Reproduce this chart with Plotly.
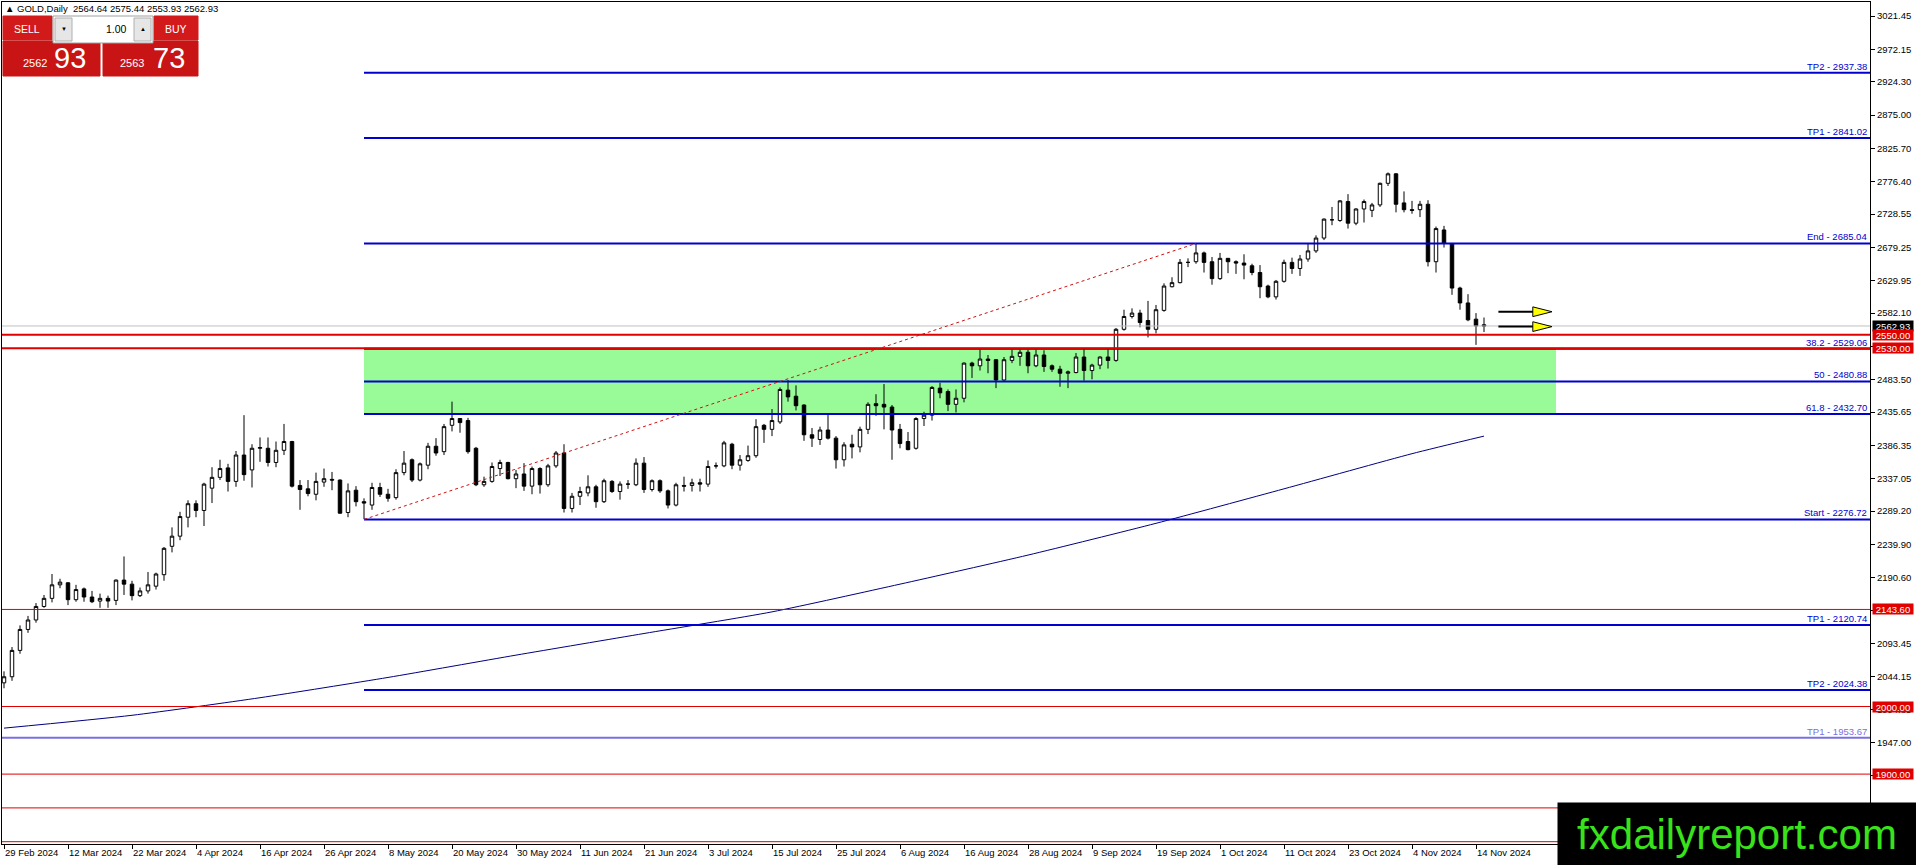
import pandas as pd
import plotly.graph_objects as go

# ---- GOLD daily bars, 29 Feb 2024 - 15 Nov 2024 ----
opens = [
    2035, 2044, 2083, 2114, 2128, 2148, 2160, 2180, 2183, 2158,
    2174, 2162, 2156, 2160, 2157, 2187, 2181, 2164, 2171, 2178,
    2195, 2237, 2252, 2280, 2300, 2290, 2323, 2339, 2353, 2333,
    2372, 2350, 2382, 2382, 2361, 2379, 2392, 2327, 2322, 2314,
    2332, 2336, 2335, 2287, 2320, 2303, 2298, 2324, 2314, 2309,
    2346, 2365, 2335, 2357, 2385, 2377, 2416, 2426, 2423, 2382,
    2328, 2333, 2352, 2361, 2337, 2344, 2326, 2352, 2328, 2356,
    2375, 2293, 2311, 2316, 2325, 2303, 2333, 2318, 2329, 2328,
    2360, 2321, 2334, 2319, 2298, 2327, 2327, 2331, 2329, 2356,
    2356, 2388, 2357, 2364, 2371, 2416, 2410, 2421, 2468, 2459,
    2446, 2402, 2395, 2409, 2397, 2365, 2388, 2384, 2410, 2448,
    2447, 2443, 2410, 2392, 2382, 2426, 2431, 2471, 2466, 2447,
    2456, 2508, 2504, 2514, 2513, 2483, 2512, 2518, 2524, 2504,
    2520, 2504, 2499, 2493, 2494, 2517, 2497, 2505, 2517, 2512,
    2558, 2577, 2582, 2571, 2558, 2586, 2621, 2627, 2657, 2658,
    2671, 2658, 2633, 2663, 2658, 2656, 2652, 2642, 2622, 2606,
    2629, 2657, 2648, 2662, 2674, 2693, 2720, 2719, 2747, 2715,
    2736, 2734, 2742, 2774, 2788, 2745, 2735, 2735, 2743, 2658,
    2705, 2685, 2619, 2597, 2573, 2564.64,
]
highs = [
    2052, 2088, 2120, 2134, 2153, 2165, 2196, 2189, 2184, 2180,
    2176, 2171, 2167, 2164, 2188, 2222, 2186, 2176, 2199, 2198,
    2236, 2265, 2288, 2305, 2305, 2331, 2354, 2365, 2359, 2378,
    2431, 2388, 2398, 2398, 2392, 2418, 2393, 2335, 2335, 2346,
    2352, 2347, 2336, 2330, 2326, 2308, 2331, 2331, 2322, 2351,
    2378, 2367, 2361, 2390, 2397, 2418, 2451, 2426, 2427, 2384,
    2340, 2361, 2365, 2362, 2350, 2360, 2355, 2354, 2359, 2378,
    2388, 2316, 2325, 2342, 2328, 2337, 2335, 2333, 2335, 2367,
    2369, 2336, 2336, 2321, 2331, 2340, 2337, 2337, 2364, 2361,
    2393, 2390, 2372, 2386, 2425, 2418, 2440, 2472, 2483, 2475,
    2447, 2412, 2414, 2433, 2400, 2391, 2402, 2414, 2450, 2462,
    2477, 2446, 2418, 2406, 2428, 2436, 2474, 2479, 2469, 2469,
    2509, 2510, 2528, 2520, 2514, 2517, 2528, 2528, 2528, 2528,
    2527, 2506, 2504, 2497, 2523, 2530, 2507, 2518, 2529, 2560,
    2587, 2589, 2587, 2600, 2594, 2626, 2635, 2662, 2663, 2685.04,
    2673, 2665, 2671, 2663, 2660, 2669, 2655, 2653, 2624, 2631,
    2661, 2664, 2668, 2685, 2697, 2722, 2739, 2749, 2758, 2737,
    2750, 2745, 2775, 2790, 2789, 2762, 2748, 2748, 2749, 2710,
    2711, 2685, 2621, 2610, 2582, 2575.44,
]
lows = [
    2027, 2038, 2078, 2109, 2124, 2146, 2154, 2175, 2150, 2155,
    2155, 2153, 2146, 2146, 2150, 2165, 2157, 2162, 2167, 2173,
    2186, 2228, 2246, 2265, 2280, 2267, 2301, 2335, 2318, 2325,
    2334, 2324, 2362, 2355, 2354, 2372, 2324, 2291, 2311, 2305,
    2325, 2320, 2285, 2280, 2296, 2277, 2291, 2310, 2303, 2306,
    2342, 2332, 2333, 2351, 2371, 2372, 2407, 2405, 2374, 2326,
    2325, 2331, 2341, 2336, 2323, 2319, 2314, 2315, 2325, 2353,
    2287, 2287, 2298, 2311, 2294, 2301, 2316, 2306, 2322, 2326,
    2316, 2318, 2316, 2293, 2296, 2318, 2318, 2318, 2325, 2352,
    2354, 2351, 2349, 2362, 2368, 2390, 2400, 2418, 2451, 2438,
    2393, 2384, 2387, 2395, 2352, 2355, 2367, 2376, 2403, 2430,
    2410, 2365, 2382, 2379, 2380, 2415, 2423, 2456, 2437, 2435,
    2450, 2486, 2497, 2493, 2471, 2482, 2508, 2504, 2493, 2502,
    2495, 2495, 2473, 2471, 2493, 2482, 2484, 2499, 2500, 2510,
    2556, 2574, 2561, 2546, 2552, 2584, 2620, 2626, 2650, 2655,
    2642, 2624, 2631, 2641, 2640, 2632, 2638, 2604, 2604, 2602,
    2627, 2640, 2637, 2658, 2671, 2690, 2712, 2717, 2707, 2712,
    2716, 2724, 2739, 2770, 2731, 2731, 2729, 2724, 2651, 2642,
    2679, 2609, 2587, 2570, 2535, 2553.93,
]
closes = [
    2044, 2083, 2114, 2128, 2148, 2160, 2180, 2184, 2158, 2173,
    2162, 2155, 2160, 2156, 2187, 2181, 2164, 2171, 2180, 2196,
    2234, 2252, 2281, 2300, 2290, 2329, 2339, 2352, 2333, 2372,
    2343, 2382, 2383, 2361, 2379, 2392, 2326, 2321, 2315, 2333,
    2337, 2335, 2286, 2319, 2303, 2301, 2324, 2314, 2308, 2346,
    2360, 2335, 2359, 2385, 2375, 2414, 2426, 2420, 2377, 2328,
    2333, 2355, 2361, 2337, 2344, 2326, 2352, 2328, 2356, 2375,
    2293, 2311, 2318, 2325, 2303, 2334, 2318, 2329, 2329, 2360,
    2321, 2334, 2319, 2298, 2328, 2326, 2331, 2329, 2355, 2356,
    2390, 2357, 2365, 2371, 2414, 2410, 2423, 2469, 2458, 2445,
    2402, 2397, 2409, 2397, 2365, 2387, 2384, 2410, 2447, 2445,
    2443, 2409, 2389, 2380, 2426, 2431, 2472, 2464, 2447, 2456,
    2508, 2504, 2514, 2512, 2483, 2513, 2518, 2524, 2504, 2520,
    2503, 2499, 2493, 2495, 2517, 2497, 2505, 2517, 2512, 2558,
    2577, 2582, 2568, 2558, 2587, 2622, 2627, 2657, 2657, 2671,
    2657, 2633, 2663, 2658, 2656, 2653, 2642, 2621, 2606, 2629,
    2657, 2648, 2662, 2674, 2693, 2721, 2720, 2748, 2715, 2736,
    2747, 2742, 2774, 2788, 2743, 2735, 2734, 2743, 2658, 2707,
    2685, 2619, 2597, 2572, 2563, 2562.93,
]

# trading days shown on the chart (no bar on Good Friday)
dates = pd.bdate_range("2024-02-29", "2024-11-15")
dates = dates[dates != pd.Timestamp("2024-03-29")]
bars = list(range(len(dates)))
tick_bars = bars[::8]
tick_text = [f"{d.day} {d:%b %Y}" for d in dates[::8]]

# moving average, read at a few bars
ma_bars = [0, 16, 32, 48, 64, 80, 96, 112, 128, 144, 160, 176, 185]
ma_values = [1968, 1987, 2013, 2043, 2076, 2108, 2140, 2181, 2224, 2271, 2322, 2374, 2400]

# price axis labels (the two lowest sit under the watermark and are left out)
ytick_vals = [3021.45, 2972.15, 2924.30, 2875.00, 2825.70, 2776.40, 2728.55, 2679.25,
              2629.95, 2582.10, 2532.80, 2483.50, 2435.65, 2386.35, 2337.05, 2289.20,
              2239.90, 2190.60, 2141.30, 2093.45, 2044.15, 1994.85, 1947.00, 1897.70]

# fibo / projection levels (drawn from the swing low bar to the right edge)
fib_start_bar, fib_start = 45, 2276.72
fib_end_bar, fib_end = 149, 2685.04
level_names = ["TP2", "TP1", "End", "38.2", "50", "61.8", "Start", "TP1", "TP2"]
level_prices = [2937.38, 2841.02, 2685.04, 2529.06, 2480.88, 2432.70, 2276.72, 2120.74, 2024.38]
old_tp_name, old_tp_price = "TP1", 1953.67
zone_low, zone_high, zone_end_bar = 2432.70, 2529.06, 194

# horizontal support / resistance lines
red_levels = [2550.00, 2530.00, 2143.60, 2000.00, 1900.00, 1850.00, 1800.00]
red_labelled = [2550.00, 2530.00, 2143.60, 2000.00, 1900.00]
bid = 2562.93
bar_info = "2564.64 2575.44 2553.93 2562.93"
arrow_levels = [2584, 2562]

# ---- layout geometry (pixels) ----
W, H = 1916, 865
ML, MR, MT, MB = 2, 46, 2, 21
X_RANGE = [-0.25, 233.25]
Y_RANGE = [1796.6, 3042.2]
BLUE = "#0000D0"
RED = "#E00000"


def px(x):
    return (x - ML) / (W - ML - MR)


def py(y):
    return (H - MB - y) / (H - MT - MB)


fig = go.Figure()

fig.add_trace(go.Scatter(x=ma_bars, y=ma_values, mode="lines",
                         line=dict(color="#000080", width=1, shape="spline", smoothing=0.6),
                         hoverinfo="skip"))

fig.add_trace(go.Candlestick(
    x=bars, open=opens, high=highs, low=lows, close=closes,
    increasing=dict(fillcolor="white", line=dict(color="black", width=1)),
    decreasing=dict(fillcolor="black", line=dict(color="black", width=1)),
    whiskerwidth=0,
))

shapes = []
# green retracement zone (behind the bars)
shapes.append(dict(type="rect", xref="x", yref="y", x0=fib_start_bar, x1=zone_end_bar,
                   y0=zone_low, y1=zone_high, fillcolor="#98FB98", line_width=0, layer="below"))
# bid line
shapes.append(dict(type="line", xref="paper", yref="y", x0=0, x1=1, y0=bid, y1=bid,
                   line=dict(color="#C0C0C0", width=1), layer="above"))
# levels
for p in level_prices:
    shapes.append(dict(type="line", xref="x", yref="y", x0=fib_start_bar, x1=X_RANGE[1],
                       y0=p, y1=p, line=dict(color=BLUE, width=2), layer="above"))
shapes.append(dict(type="line", xref="paper", yref="y", x0=0, x1=1, y0=old_tp_price,
                   y1=old_tp_price, line=dict(color="#7A70E0", width=2), layer="above"))
for i, p in enumerate(red_levels):
    shapes.append(dict(type="line", xref="paper", yref="y", x0=0, x1=1, y0=p, y1=p,
                       line=dict(color=RED, width=2 if i < 2 else 1), layer="above"))
# fibo base line
shapes.append(dict(type="line", xref="x", yref="y", x0=fib_start_bar, y0=fib_start,
                   x1=fib_end_bar, y1=fib_end, line=dict(color="#D01010", width=1, dash="dot"),
                   layer="above"))
# yellow arrows
for p in arrow_levels:
    shapes.append(dict(type="line", xref="x", yref="y", x0=186.8, x1=191.2, y0=p, y1=p,
                       line=dict(color="black", width=2), layer="above"))
    shapes.append(dict(type="path", xref="x", yref="y", layer="above",
                       path=f"M 191.1 {p + 7.2} L 193.5 {p} L 191.1 {p - 7.2} Z",
                       fillcolor="#FFFF00", line=dict(color="black", width=1)))

# one-click trading panel
panel = [
    (3, 52, 16, 40, "#D21A1A", None),
    (154, 198, 16, 40, "#D21A1A", None),
    (3, 100, 41, 76, "#C81414", None),
    (103, 198, 41, 76, "#C81414", None),
    (53, 153, 16, 43, "white", "#A0A0A0"),
    (55, 72, 18, 41, "#E6E6E6", "#B0B0B0"),
    (134, 151, 18, 41, "#E6E6E6", "#B0B0B0"),
]
for x0, x1, y0, y1, fill, edge in panel:
    shapes.append(dict(type="rect", xref="paper", yref="paper", x0=px(x0), x1=px(x1),
                       y0=py(y1), y1=py(y0), fillcolor=fill,
                       line=dict(color=edge or fill, width=1), layer="above"))

annotations = []
for name, p in zip(level_names, level_prices):
    annotations.append(dict(xref="paper", yref="y", x=px(1868), y=p, text=f"{name} - {p:.2f}",
                            xanchor="right", yanchor="bottom", showarrow=False,
                            font=dict(color=BLUE, size=9.5), borderpad=0))
annotations.append(dict(xref="paper", yref="y", x=px(1868), y=old_tp_price,
                        text=f"{old_tp_name} - {old_tp_price:.2f}", xanchor="right",
                        yanchor="bottom", showarrow=False, font=dict(color="#7A70E0", size=9.5),
                        borderpad=0))
# price labels on the right scale
annotations.append(dict(xref="paper", yref="y", x=px(1872), y=bid, text=f"{bid:.2f}",
                        xanchor="left", yanchor="middle", showarrow=False, bgcolor="black",
                        width=40, height=10, borderpad=0, font=dict(color="white", size=9.5)))
for p in red_labelled:
    annotations.append(dict(xref="paper", yref="y", x=px(1872), y=p, text=f"{p:.2f}",
                            xanchor="left", yanchor="middle", showarrow=False, bgcolor=RED,
                            width=40, height=10, borderpad=0, font=dict(color="white", size=9.5)))

# header and panel texts
annotations.append(dict(xref="paper", yref="paper", x=px(3), y=py(8),
                        text=f"\u25b2 GOLD,Daily  {bar_info}", xanchor="left", yanchor="middle",
                        showarrow=False, font=dict(color="black", size=9.5)))
panel_text = [
    (27, 29, "SELL", 10.5, "white", "center"),
    (176, 29, "BUY", 10.5, "white", "center"),
    (129, 29, "1.00", 10.5, "black", "right"),
    (63.5, 29, "\u25bc", 6, "black", "center"),
    (142.5, 29, "\u25b2", 6, "black", "center"),
    (35, 63, "2562", 11, "white", "center"),
    (70, 58, "93", 29, "white", "center"),
    (132, 63, "2563", 11, "white", "center"),
    (169, 58, "73", 29, "white", "center"),
]
for x, y, t, s, c, anchor in panel_text:
    annotations.append(dict(xref="paper", yref="paper", x=px(x), y=py(y), text=t,
                            xanchor=anchor, yanchor="middle", showarrow=False,
                            font=dict(color=c, size=s)))

# watermark box
annotations.append(dict(xref="paper", yref="paper", x=px(1737), y=py(834),
                        text="fxdailyreport.com", xanchor="center", yanchor="middle",
                        showarrow=False, bgcolor="black", width=358, height=62, borderpad=0,
                        font=dict(color="#39E21B", size=42, family="Liberation Sans, Arial")))

fig.update_layout(
    width=W, height=H,
    margin=dict(l=ML, r=MR, t=MT, b=MB),
    paper_bgcolor="white", plot_bgcolor="white",
    showlegend=False, boxgap=0.38, hovermode=False,
    font=dict(family="Liberation Sans, Arial, sans-serif", color="black", size=9.5),
    shapes=shapes, annotations=annotations,
    xaxis=dict(range=X_RANGE, rangeslider=dict(visible=False), showgrid=False, zeroline=False,
               tickmode="array", tickvals=tick_bars, ticktext=tick_text,
               ticks="outside", ticklen=4, tickcolor="black",
               ticklabelposition="outside right",
               showline=True, linecolor="black", linewidth=1, mirror=True),
    yaxis=dict(range=Y_RANGE, side="right", showgrid=False, zeroline=False,
               tickmode="array", tickvals=ytick_vals,
               ticktext=[f"{v:.2f}" for v in ytick_vals],
               ticks="outside", ticklen=4, tickcolor="black",
               showline=True, linecolor="black", linewidth=1, mirror=True),
)

# the page body has a default margin; drop it so the chart sits at the window corner
fig.write_html("out.html", config={"displayModeBar": False},
               post_script="document.body.style.margin='0';"
                           "document.body.style.overflow='hidden';")
